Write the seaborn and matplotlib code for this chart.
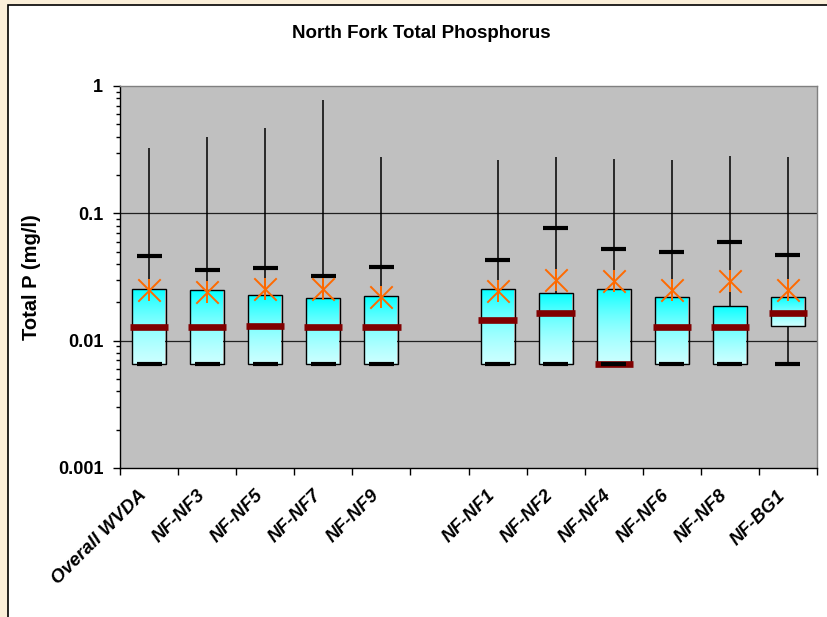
import numpy as np
import seaborn as sns
from matplotlib import pyplot as plt
from matplotlib.colors import LinearSegmentedColormap
from matplotlib.patches import Rectangle
from matplotlib.transforms import ScaledTranslation
from matplotlib.ticker import FixedLocator, LogLocator, NullFormatter, FuncFormatter

sites = ["Overall WVDA", "NF-NF3", "NF-NF5", "NF-NF7", "NF-NF9",
         "NF-NF1", "NF-NF2", "NF-NF4", "NF-NF6", "NF-NF8", "NF-BG1"]
p_max = [0.328, 0.395, 0.465, 0.776, 0.279, 0.262, 0.277, 0.268, 0.262, 0.284, 0.277]
p90 = [0.0459, 0.0359, 0.0370, 0.0322, 0.0379, 0.0432, 0.0767, 0.0525, 0.0497, 0.0598, 0.0470]
q3 = [0.0256, 0.0248, 0.0228, 0.0216, 0.0223, 0.0256, 0.0235, 0.0256, 0.0221, 0.0188, 0.0221]
median = [0.0128, 0.0128, 0.0131, 0.0128, 0.0128, 0.0146, 0.0164, 0.0065, 0.0128, 0.0128, 0.0164]
q1 = [0.0065, 0.0065, 0.0065, 0.0065, 0.0065, 0.0065, 0.0065, 0.0065, 0.0065, 0.0065, 0.0130]
p10 = [0.0065, 0.0065, 0.0065, 0.0065, 0.0065, 0.0065, 0.0065, 0.0065, 0.0065, 0.0065, 0.0065]
mean = [0.0250, 0.0242, 0.0256, 0.0256, 0.0219, 0.0244, 0.0299, 0.0292, 0.0248, 0.0292, 0.0248]

sns.set_style("white")
plt.rcParams['font.family'] = ['Liberation Sans', 'DejaVu Sans']
plt.rcParams['text.color'] = 'black'
plt.rcParams['axes.labelcolor'] = 'black'
plt.rcParams['xtick.color'] = 'black'
plt.rcParams['ytick.color'] = 'black'

# empty slot between the two groups of sites
pos = np.array([i if i < 5 else i + 1 for i in range(len(sites))])
n_slots = 12

fig = plt.figure(figsize=(8.27, 6.17), dpi=100)
fig.patch.set_facecolor('#FBEFD9')
fig.add_artist(Rectangle((8 / 827, -0.05), 1.0, 1 - 5 / 617 + 0.05,
                         transform=fig.transFigure, facecolor='white',
                         edgecolor='black', lw=1.2, zorder=0))
ax = fig.add_axes([120 / 827, 1 - 468 / 617, 697 / 827, 382 / 617])
ax.set_facecolor('#C0C0C0')
ax.set_yscale('log')
ax.set_ylim(0.001, 1)
ax.set_xlim(-0.5, n_slots - 0.5)

for yv in [0.1, 0.01]:
    ax.axhline(yv, color='#202020', lw=0.9, zorder=1)

q1a, q3a = np.array(q1), np.array(q3)
box_w = 0.585
cmap = LinearSegmentedColormap.from_list('cy', ['#CCFFFF', '#00FFFF'])
grad = np.linspace(0, 1, 256).reshape(-1, 1)

# whiskers: box top to max, box bottom to 10th percentile
ax.vlines(pos, q3a, p_max, color='black', lw=1.1, zorder=2)
ax.vlines(pos, p10, q1a, color='black', lw=1.1, zorder=2)

bars = ax.bar(pos, q3a - q1a, bottom=q1a, width=box_w, color='none',
              edgecolor='black', lw=1.0, zorder=4)
for b in bars:
    x0 = b.get_x()
    im = ax.imshow(grad, extent=[x0, x0 + box_w, b.get_y(), b.get_y() + b.get_height()],
                   origin='lower', cmap=cmap, aspect='auto', zorder=3,
                   interpolation='bilinear')
    im.set_clip_path(b)

ax.hlines(median, pos - 0.33, pos + 0.33, color='#800000', lw=4.8, zorder=5)
ax.hlines(p90, pos - 0.215, pos + 0.215, color='black', lw=3, zorder=6)
ax.hlines(p10, pos - 0.215, pos + 0.215, color='black', lw=3, zorder=6)

sns.scatterplot(x=pos, y=mean, marker='x', s=260, color='#FF6A00',
                linewidth=1.4, ax=ax, zorder=7)
sns.scatterplot(x=pos, y=mean, marker='|', s=260, color='#FF6A00',
                linewidth=1.4, ax=ax, zorder=7)
ax.set_aspect('auto')
ax.set_xlim(-0.5, n_slots - 0.5)
ax.set_ylim(0.001, 1)

# axes styling
for side in ['top', 'right']:
    ax.spines[side].set_color('#808080')
    ax.spines[side].set_linewidth(1.0)
for side in ['left', 'bottom']:
    ax.spines[side].set_color('black')
    ax.spines[side].set_linewidth(1.0)

ax.yaxis.set_major_locator(LogLocator(base=10, numticks=10))
ax.yaxis.set_minor_locator(LogLocator(base=10, subs=np.arange(2, 10), numticks=10))
ax.yaxis.set_major_formatter(FuncFormatter(lambda v, _: '%g' % v))
ax.yaxis.set_minor_formatter(NullFormatter())
ax.tick_params(axis='y', which='major', direction='out', length=5, width=1,
               left=True, labelsize=13, pad=7, color='black')
ax.tick_params(axis='y', which='minor', direction='out', length=3, width=1,
               left=True, color='black')
for lab in ax.get_yticklabels():
    lab.set_fontweight('bold')

# category boundaries get the tick marks, names sit under the slot centres
ax.xaxis.set_major_locator(FixedLocator(np.arange(-0.5, n_slots, 1.0)))
ax.xaxis.set_major_formatter(NullFormatter())
ax.tick_params(axis='x', which='major', direction='out', length=5, width=1,
               bottom=True, color='black')
ax.set_xlabel('')
shift = ScaledTranslation(-5 / 100, -25 / 100, fig.dpi_scale_trans)
for p, name in zip(pos, sites):
    ax.text(p, 0, name, transform=ax.get_xaxis_transform() + shift,
            rotation=45, ha='right', va='center', rotation_mode='anchor',
            fontsize=13.5, fontweight='bold', fontstyle='italic')

ax.set_ylabel('Total P (mg/l)', fontsize=14.5, fontweight='bold', labelpad=12)
fig.text(421 / 827, 1 - 33 / 617, 'North Fork Total Phosphorus', ha='center',
         va='center', fontsize=13.5, fontweight='bold')

fig.savefig('out.png', dpi=100, facecolor=fig.get_facecolor())
